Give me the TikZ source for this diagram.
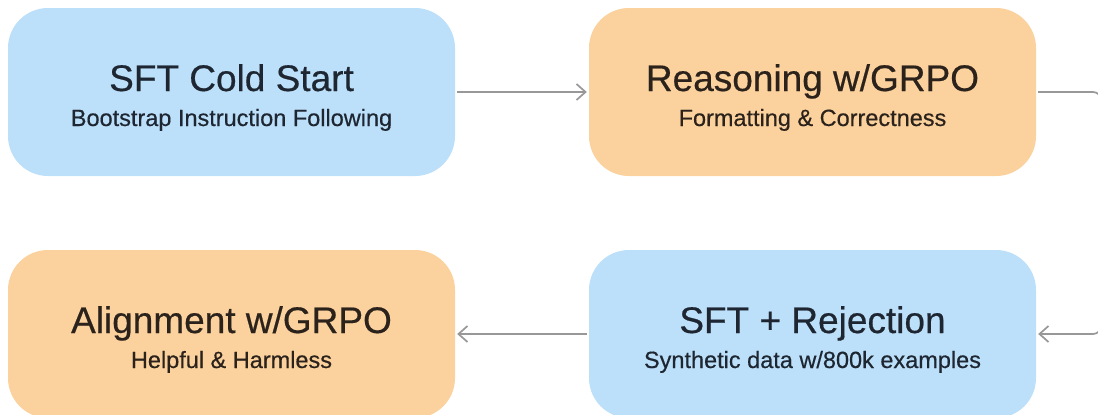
\documentclass[tikz,border=0pt]{standalone}
\usepackage{fontspec}
\setmainfont{Liberation Sans}
\newfontfamily\stagefont{Liberation Sans}[FakeBold=0.45]
\usetikzlibrary{arrows.meta}
\definecolor{stageblue}{HTML}{BDE0FA}
\definecolor{stageorange}{HTML}{FBD29E}
\definecolor{inkblue}{HTML}{1D2631}
\definecolor{inkbrown}{HTML}{2A221B}
\definecolor{linkgray}{HTML}{989898}
\tikzset{
  stagebox/.style={rectangle, rounded corners=40pt, minimum width=447pt,
    minimum height=168pt, inner sep=0pt, draw=none},
  bluebox/.style={stagebox, fill=stageblue},
  orangebox/.style={stagebox, fill=stageorange},
  titletext/.style={anchor=base, inner sep=0pt, font=\stagefont\fontsize{37}{42}\selectfont},
  subtext/.style={anchor=base, inner sep=0pt, font=\stagefont\fontsize{23.5}{28}\selectfont},
  link/.style={draw=linkgray, line width=1.7pt,
    -{Straight Barb[length=9pt, width=16pt, line width=1.7pt]}},
}
\begin{document}
\begin{tikzpicture}[x=1pt, y=-1pt]
  \useasboundingbox (0,0) rectangle (1098,415);
  \clip (0,0) rectangle (1098,415);
  \fill[white] (0,0) rectangle (1098,415);

  % stage boxes
  \node[bluebox]   (cold)   at (231.5,92)  {};
  \node[orangebox] (reason) at (812.5,92)  {};
  \node[bluebox]   (reject) at (812.5,334) {};
  \node[orangebox] (align)  at (231.5,334) {};

  % stage labels
  \node[titletext, text=inkblue]   (coldT)   at ([yshift=1pt]cold.center)    {SFT Cold Start};
  \node[subtext,   text=inkblue]   (coldS)   at ([yshift=-34pt]cold.center)  {Bootstrap Instruction Following};
  \node[titletext, text=inkbrown]  (reasonT) at ([yshift=1pt]reason.center)  {Reasoning w/GRPO};
  \node[subtext,   text=inkbrown]  (reasonS) at ([yshift=-34pt]reason.center){Formatting \& Correctness};
  \node[titletext, text=inkblue]   (rejectT) at ([yshift=1pt]reject.center)  {SFT + Rejection};
  \node[subtext,   text=inkblue]   (rejectS) at ([yshift=-34pt]reject.center){Synthetic data w/800k examples};
  \node[titletext, text=inkbrown]  (alignT)  at ([yshift=1pt]align.center)   {Alignment w/GRPO};
  \node[subtext,   text=inkbrown]  (alignS)  at ([yshift=-34pt]align.center) {Helpful \& Harmless};

  % connectors
  \draw[link] ([xshift=2pt]cold.east) -- ([xshift=-2pt]reason.west);
  \coordinate (turnTop) at (1101,92);
  \coordinate (turnBot) at (1101,334);
  \draw[link, rounded corners=8pt] ([xshift=2pt]reason.east) -- (turnTop) -- (turnBot) -- ([xshift=2pt]reject.east);
  \draw[link] ([xshift=-2pt]reject.west) -- ([xshift=2pt]align.east);
\end{tikzpicture}
\end{document}
